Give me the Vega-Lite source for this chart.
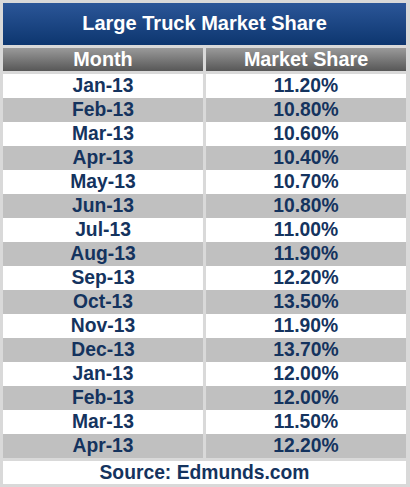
{
  "$schema": "https://vega.github.io/schema/vega-lite/v6.json",
  "background": "#d9d9d9",
  "padding": {"left": 3, "top": 3, "right": 4, "bottom": 3},
  "spacing": 3,
  "config": {
    "view": {"stroke": null},
    "text": {"font": "Liberation Sans", "fontWeight": "bold", "fontSize": 19.3, "color": "#14335e"}
  },
  "vconcat": [
    {
      "width": 403,
      "height": 42,
      "data": {"values": [{"label": "Large Truck Market Share"}]},
      "layer": [
        {
          "mark": {
            "type": "rect",
            "color": {
              "gradient": "linear", "x1": 0, "y1": 0, "x2": 0, "y2": 1,
              "stops": [{"offset": 0, "color": "#2b5698"}, {"offset": 1, "color": "#0d366f"}]
            }
          },
          "encoding": {}
        },
        {
          "mark": {"type": "text", "color": "white", "fontSize": 20},
          "encoding": {"text": {"field": "label"}}
        }
      ]
    },
    {
      "width": 403,
      "height": 23,
      "data": {"values": [{"col": "Month"}, {"col": "Market Share"}]},
      "encoding": {
        "x": {
          "field": "col", "type": "nominal", "axis": null, "sort": null,
          "scale": {"domain": ["Month", "Market Share"], "paddingInner": 0.015, "paddingOuter": 0}
        }
      },
      "layer": [
        {
          "mark": {
            "type": "rect",
            "color": {
              "gradient": "linear", "x1": 0, "y1": 0, "x2": 0, "y2": 1,
              "stops": [{"offset": 0, "color": "#9a9a9a"}, {"offset": 1, "color": "#575757"}]
            }
          }
        },
        {
          "mark": {"type": "text", "color": "white", "fontSize": 19.8},
          "encoding": {"text": {"field": "col"}}
        }
      ]
    },
    {
      "width": 403,
      "height": 384,
      "data": {
        "values": [
          {"month": "Jan-13", "share": 0.112},
          {"month": "Feb-13", "share": 0.108},
          {"month": "Mar-13", "share": 0.106},
          {"month": "Apr-13", "share": 0.104},
          {"month": "May-13", "share": 0.107},
          {"month": "Jun-13", "share": 0.108},
          {"month": "Jul-13", "share": 0.11},
          {"month": "Aug-13", "share": 0.119},
          {"month": "Sep-13", "share": 0.122},
          {"month": "Oct-13", "share": 0.135},
          {"month": "Nov-13", "share": 0.119},
          {"month": "Dec-13", "share": 0.137},
          {"month": "Jan-13", "share": 0.12},
          {"month": "Feb-13", "share": 0.12},
          {"month": "Mar-13", "share": 0.115},
          {"month": "Apr-13", "share": 0.122}
        ]
      },
      "transform": [{"window": [{"op": "row_number", "as": "n"}]}],
      "encoding": {
        "y": {"field": "n", "type": "ordinal", "axis": null, "scale": {"paddingInner": 0, "paddingOuter": 0}}
      },
      "layer": [
        {
          "mark": "rect",
          "encoding": {
            "x": {
              "datum": "Month", "type": "nominal", "axis": null,
              "scale": {"domain": ["Month", "Market Share"], "paddingInner": 0.015, "paddingOuter": 0}
            },
            "color": {"condition": {"test": "datum.n % 2 === 0", "value": "#c0c0c0"}, "value": "white"}
          }
        },
        {
          "mark": "rect",
          "encoding": {
            "x": {"datum": "Market Share", "type": "nominal"},
            "color": {"condition": {"test": "datum.n % 2 === 0", "value": "#c0c0c0"}, "value": "white"}
          }
        },
        {
          "mark": {"type": "text"},
          "encoding": {
            "x": {"datum": "Month", "type": "nominal"},
            "text": {"field": "month"}
          }
        },
        {
          "mark": {"type": "text"},
          "encoding": {
            "x": {"datum": "Market Share", "type": "nominal"},
            "text": {"field": "share", "type": "quantitative", "format": ".2%"}
          }
        }
      ]
    },
    {
      "width": 403,
      "height": 23,
      "data": {"values": [{"label": "Source: Edmunds.com"}]},
      "layer": [
        {"mark": {"type": "rect", "color": "white"}, "encoding": {}},
        {"mark": "text", "encoding": {"text": {"field": "label"}}}
      ]
    }
  ]
}
